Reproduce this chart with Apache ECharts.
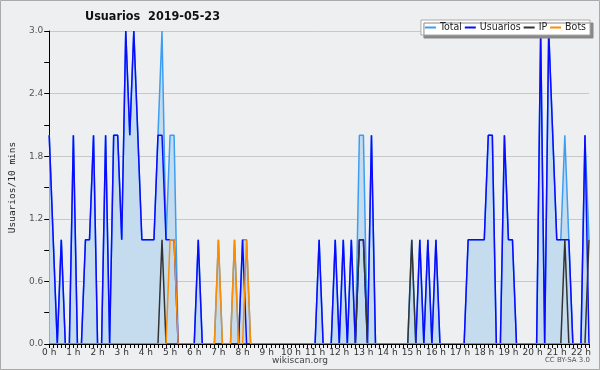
<!DOCTYPE html>
<html><head><meta charset="utf-8">
<script src="https://cdn.jsdelivr.net/npm/echarts@6/dist/echarts.min.js"></script>
<style>html,body{margin:0;padding:0;background:#eeeff1}#c{width:600px;height:370px}</style>
</head><body><div id="c"></div><script>
// 10-minute intervals, index 0 = 0:00
const hourLabels = ['0 h','1 h','2 h','3 h','4 h','5 h','6 h','7 h','8 h','9 h','10 h','11 h','12 h','13 h','14 h','15 h','16 h','17 h','18 h','19 h','20 h','21 h','22 h'];
const yTicks = [0, 0.6, 1.2, 1.8, 2.4, 3.0];
const total = [
 2,1,0,1,0,0,2,0,0,1,1,2,
 0,0,2,0,2,2,1,3,2,3,2,1,
 1,1,1,2,3,1,2,2,0,0,0,0,
 0,1,0,0,0,0,1,0,0,0,1,0,
 1,1,0,0,0,0,0,0,0,0,0,0,
 0,0,0,0,0,0,0,1,0,0,0,1,
 0,1,0,1,0,2,2,0,2,0,0,0,
 0,0,0,0,0,0,1,0,1,0,1,0,
 1,0,0,0,0,0,0,0,1,1,1,1,
 1,2,2,0,0,2,1,1,0,0,0,0,
 0,0,3,0,3,2,1,1,2,1,0,0,
 0,2,1];
const usuarios = [
 2,1,0,1,0,0,2,0,0,1,1,2,
 0,0,2,0,2,2,1,3,2,3,2,1,
 1,1,1,2,2,1,1,1,0,0,0,0,
 0,1,0,0,0,0,0,0,0,0,0,0,
 1,0,0,0,0,0,0,0,0,0,0,0,
 0,0,0,0,0,0,0,1,0,0,0,1,
 0,1,0,1,0,1,1,0,2,0,0,0,
 0,0,0,0,0,0,0,0,1,0,1,0,
 1,0,0,0,0,0,0,0,1,1,1,1,
 1,2,2,0,0,2,1,1,0,0,0,0,
 0,0,3,0,3,2,1,1,1,1,0,0,
 0,2,0];
const ip = [
 0,0,0,0,0,0,0,0,0,0,0,0,
 0,0,0,0,0,0,0,0,0,0,0,0,
 0,0,0,0,1,0,0,0,0,0,0,0,
 0,0,0,0,0,0,0,0,0,0,0,0,
 0,0,0,0,0,0,0,0,0,0,0,0,
 0,0,0,0,0,0,0,0,0,0,0,0,
 0,0,0,0,0,1,1,0,0,0,0,0,
 0,0,0,0,0,0,1,0,0,0,0,0,
 0,0,0,0,0,0,0,0,0,0,0,0,
 0,0,0,0,0,0,0,0,0,0,0,0,
 0,0,0,0,0,0,0,0,1,0,0,0,
 0,0,1];
const bots = [
 0,0,0,0,0,0,0,0,0,0,0,0,
 0,0,0,0,0,0,0,0,0,0,0,0,
 0,0,0,0,0,0,1,1,0,0,0,0,
 0,0,0,0,0,0,1,0,0,0,1,0,
 0,1,0,0,0,0,0,0,0,0,0,0,
 0,0,0,0,0,0,0,0,0,0,0,0,
 0,0,0,0,0,0,0,0,0,0,0,0,
 0,0,0,0,0,0,0,0,0,0,0,0,
 0,0,0,0,0,0,0,0,0,0,0,0,
 0,0,0,0,0,0,0,0,0,0,0,0,
 0,0,0,0,0,0,0,0,0,0,0,0,
 0,0,0];
const times = total.map((_, i) => Math.floor(i/6) + ':' + (i%6) + '0');

const chart = echarts.init(document.getElementById('c'), null, {renderer:'canvas'});
const FONT = 'DejaVu Sans';
chart.setOption({
  animation: false,
  backgroundColor: '#eeeff1',
  title: {
    text: 'Usuarios  2019-05-23', left: 85, top: 10, padding: 0,
    textStyle: {fontFamily: 'DejaVu Sans Condensed', fontWeight: 'bold', fontSize: 12.5, color: '#111'}
  },
  legend: {
    data: ['Total','Usuarios','IP','Bots'],
    right: 10, top: 20, padding: [2,4,2,4], itemGap: 3,
    itemWidth: 11, itemHeight: 2, icon: 'rect',
    backgroundColor: '#ffffff', borderColor: '#aaa', borderWidth: 1,
    shadowColor: '#888', shadowBlur: 0, shadowOffsetX: 3, shadowOffsetY: 3,
    textStyle: {fontFamily: 'DejaVu Sans Condensed', fontSize: 10.5, color: '#222', padding: [0,0,0,-1]}
  },
  grid: {left: 42, right: 11, top: 31, bottom: 26, containLabel: false},
  xAxis: {
    type: 'category', data: times, boundaryGap: false, z: 10,
    axisLine: {lineStyle: {color: '#000', width: 1}},
    axisTick: {show: true, interval: 0, length: 4, lineStyle: {color: '#000'}},
    axisLabel: {interval: 5, margin: 4, fontFamily: FONT, fontSize: 9, color: '#333',
      formatter: (v, idx) => hourLabels[idx/6] || ''},
    splitLine: {show: false}
  },
  yAxis: {
    type: 'value', min: yTicks[0], max: yTicks[yTicks.length-1], interval: 0.6,
    name: 'Usuarios/10 mins', nameLocation: 'middle', nameGap: 30, nameRotate: 90,
    nameTextStyle: {fontFamily: 'DejaVu Sans Mono', fontSize: 9.5, color: '#222'},
    axisLine: {show: true, lineStyle: {color: '#000'}},
    axisTick: {show: true, length: 5, lineStyle: {color: '#000'}},
    minorTick: {show: true, splitNumber: 2, length: 5, lineStyle: {color: '#000'}},
    axisLabel: {margin: 6, fontFamily: FONT, fontSize: 9, color: '#555',
      formatter: v => v.toFixed(1)},
    splitLine: {show: true, lineStyle: {color: '#c8c8c8', width: 1}}
  },
  graphic: [
    {type: 'rect', shape: {x: 0.5, y: 0.5, width: 599, height: 369}, style: {fill: null, stroke: '#aaa', lineWidth: 1}, silent: true},
    {type: 'text', left: 'center', top: 356, style: {text: 'wikiscan.org', font: '9px DejaVu Sans', fill: '#444'}},
    {type: 'text', right: 10, top: 357, style: {text: 'CC BY-SA 3.0', font: '7px DejaVu Sans', fill: '#555'}}
  ],
  series: [
    {name: 'Total', type: 'line', data: total, symbol: 'none',
      itemStyle: {color: '#3d9df2'}, lineStyle: {color: '#3d9df2', width: 1.5},
      areaStyle: {color: '#c5dcef', opacity: 1}, z: 2},
    {name: 'Usuarios', type: 'line', data: usuarios, symbol: 'none',
      itemStyle: {color: '#0a0aff'}, lineStyle: {color: '#0a0aff', width: 1.5}, z: 3},
    {name: 'IP', type: 'line', data: ip, symbol: 'none',
      itemStyle: {color: '#333'}, lineStyle: {color: '#333', width: 1.5}, z: 4},
    {name: 'Bots', type: 'line', data: bots, symbol: 'none',
      itemStyle: {color: '#ff8c00'}, lineStyle: {color: '#ff8c00', width: 1.5}, z: 5}
  ]
});
</script></body></html>
